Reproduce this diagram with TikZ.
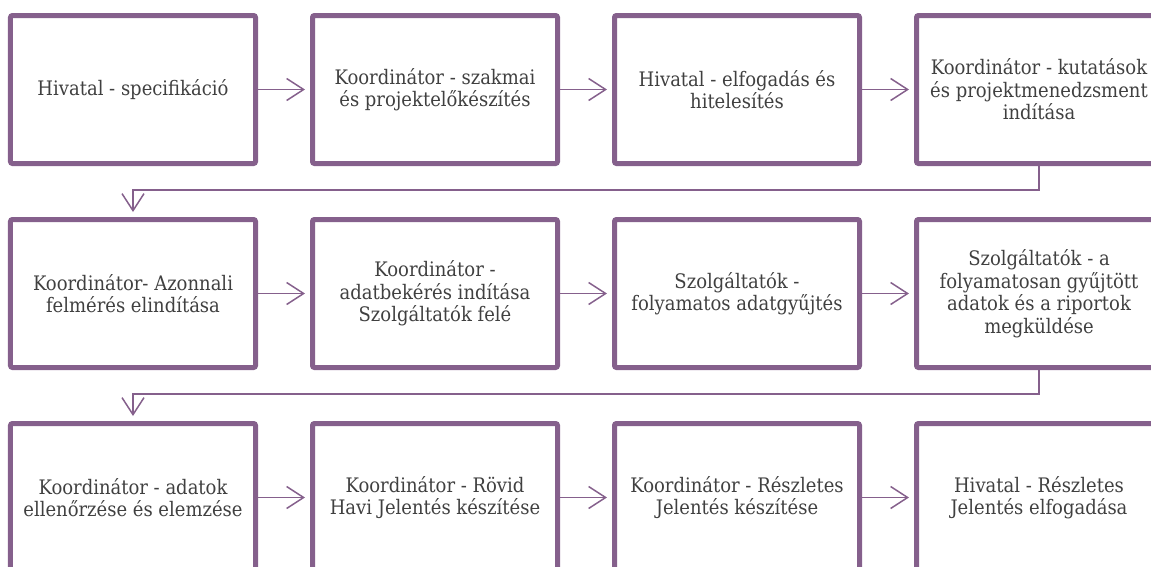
\documentclass[tikz,border=0pt]{standalone}
\usepackage{fontspec}
\setmainfont{DejaVu Serif Condensed}
\usetikzlibrary{arrows.meta}
\definecolor{lila}{RGB}{133,96,140}
\definecolor{szoveg}{RGB}{64,64,64}
\tikzstyle{lepes} = [rectangle, minimum width=245pt, minimum height=148pt, line width=5pt, rounded corners=2pt, draw=lila, fill=white, text=szoveg, align=center, font=\fontsize{20}{22.5}\selectfont]
\tikzstyle{nyil} = [line width=1.5pt, draw=lila, -{Straight Barb[length=17pt, width=22pt]}, shorten >=5pt]

\begin{document}
\begin{tikzpicture}[node distance=302pt]
\useasboundingbox (-133pt,-476.5pt) rectangle (1018pt,89.5pt);
\node (spec) [lepes] {Hivatal - specifikáció};
\node (elok) [lepes, right of=spec] {Koordinátor - szakmai\\és projektelőkészítés};
\node (elfog) [lepes, right of=elok] {Hivatal - elfogadás és\\hitelesítés};
\node (indit) [lepes, right of=elfog] {Koordinátor - kutatások\\és projektmenedzsment\\indítása};
\node (felm) [lepes, below of=spec, node distance=204pt] {Koordinátor- Azonnali\\felmérés elindítása};
\node (bekeres) [lepes, right of=felm] {Koordinátor -\\adatbekérés indítása\\Szolgáltatók felé};
\node (gyujt) [lepes, right of=bekeres] {Szolgáltatók -\\folyamatos adatgyűjtés};
\node (kuld) [lepes, right of=gyujt] {Szolgáltatók - a\\folyamatosan gyűjtött\\adatok és a riportok\\megküldése};
\node (elemz) [lepes, below of=felm, node distance=204pt] {Koordinátor - adatok\\ellenőrzése és elemzése};
\node (havi) [lepes, right of=elemz] {Koordinátor - Rövid\\Havi Jelentés készítése};
\node (reszl) [lepes, right of=havi] {Koordinátor - Részletes\\Jelentés készítése};
\node (jovah) [lepes, right of=reszl] {Hivatal - Részletes\\Jelentés elfogadása};
\draw [nyil] (spec) -- (elok);
\draw [nyil] (elok) -- (elfog);
\draw [nyil] (elfog) -- (indit);
\draw [nyil] (indit.south) -- ++(0,-24pt) -| (felm.north);
\draw [nyil] (felm) -- (bekeres);
\draw [nyil] (bekeres) -- (gyujt);
\draw [nyil] (gyujt) -- (kuld);
\draw [nyil] (kuld.south) -- ++(0,-24pt) -| (elemz.north);
\draw [nyil] (elemz) -- (havi);
\draw [nyil] (havi) -- (reszl);
\draw [nyil] (reszl) -- (jovah);
\end{tikzpicture}
\end{document}
